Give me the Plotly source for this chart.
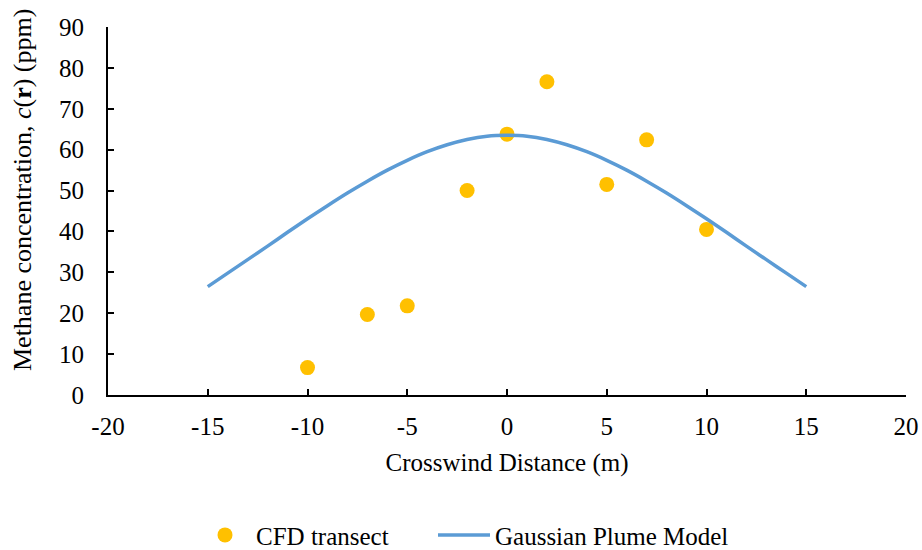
import plotly.graph_objects as go

# CFD transect data
cfd_x = [-10, -7, -5, -2, 0, 2, 5, 7, 10]
cfd_y = [6.7, 19.7, 21.8, 50.0, 63.8, 76.6, 51.5, 62.4, 40.5]

# Gaussian plume model curve
gpm_x = [-15, -14, -13, -12, -11, -10, -9, -8, -7, -6, -5, -4, -3, -2, -1, 0,
         1, 2, 3, 4, 5, 6, 7, 8, 9, 10, 11, 12, 13, 14, 15]
gpm_y = [26.5, 29.8, 33.1, 36.4, 39.8, 43.1, 46.3, 49.4, 52.3, 55.0, 57.4, 59.5, 61.2, 62.5, 63.3, 63.5,
         63.3, 62.5, 61.2, 59.5, 57.4, 55.0, 52.3, 49.4, 46.3, 43.1, 39.8, 36.4, 33.1, 29.8, 26.5]

x_ticks = [-20, -15, -10, -5, 0, 5, 10, 15, 20]
y_ticks = [0, 10, 20, 30, 40, 50, 60, 70, 80, 90]

y_title = "Methane concentration, <i>c</i>(<b>r</b>) (ppm)"
x_title = "Crosswind Distance (m)"

font_family = "Liberation Serif, Times New Roman, serif"
fs = 25

fig = go.Figure()
fig.add_trace(go.Scatter(
    x=cfd_x, y=cfd_y, mode="markers", name="CFD transect",
    marker=dict(color="#FFC000", size=15, line=dict(width=0)),
    legend="legend",
))
fig.add_trace(go.Scatter(
    x=gpm_x, y=gpm_y, mode="lines", name="Gaussian Plume Model",
    line=dict(color="#5B9BD5", width=3.5, shape="spline"),
    legend="legend2",
))

fig.add_annotation(
    text=y_title, textangle=-90, showarrow=False,
    xref="paper", yref="paper", x=0, y=0.557,
    xanchor="center", yanchor="middle", xshift=-86,
    font=dict(size=26, family=font_family, color="black"),
)

legend_common = dict(orientation="h", xref="container", yref="container",
                     y=0.027, xanchor="left", yanchor="middle",
                     font=dict(size=fs), itemwidth=52, bgcolor="rgba(0,0,0,0)")

fig.update_layout(
    width=922, height=550,
    margin=dict(l=108, r=16, t=27, b=155, autoexpand=False),
    paper_bgcolor="white", plot_bgcolor="white",
    font=dict(family=font_family, size=fs, color="black"),
    showlegend=True,
    legend=dict(x=194 / 922, **legend_common),
    legend2=dict(x=433 / 922, **legend_common),
    xaxis=dict(
        range=[-20, 20], tickvals=x_ticks, ticktext=[str(v) for v in x_ticks],
        showgrid=False, zeroline=False, showline=True, linecolor="black", linewidth=2,
        ticks="inside", ticklen=6, tickwidth=1.5, tickcolor="black",
        ticklabelstandoff=8,
        title=dict(text=x_title, standoff=14, font=dict(size=fs)),
        tickfont=dict(size=fs), automargin=False,
    ),
    yaxis=dict(
        range=[0, 90], tickvals=y_ticks, ticktext=[str(v) for v in y_ticks],
        showgrid=False, zeroline=False, showline=True, linecolor="black", linewidth=2,
        ticks="inside", ticklen=6, tickwidth=1.5, tickcolor="black",
        ticklabelstandoff=17,
        tickfont=dict(size=fs), automargin=False,
    ),
)

fig.write_html("out.html")
